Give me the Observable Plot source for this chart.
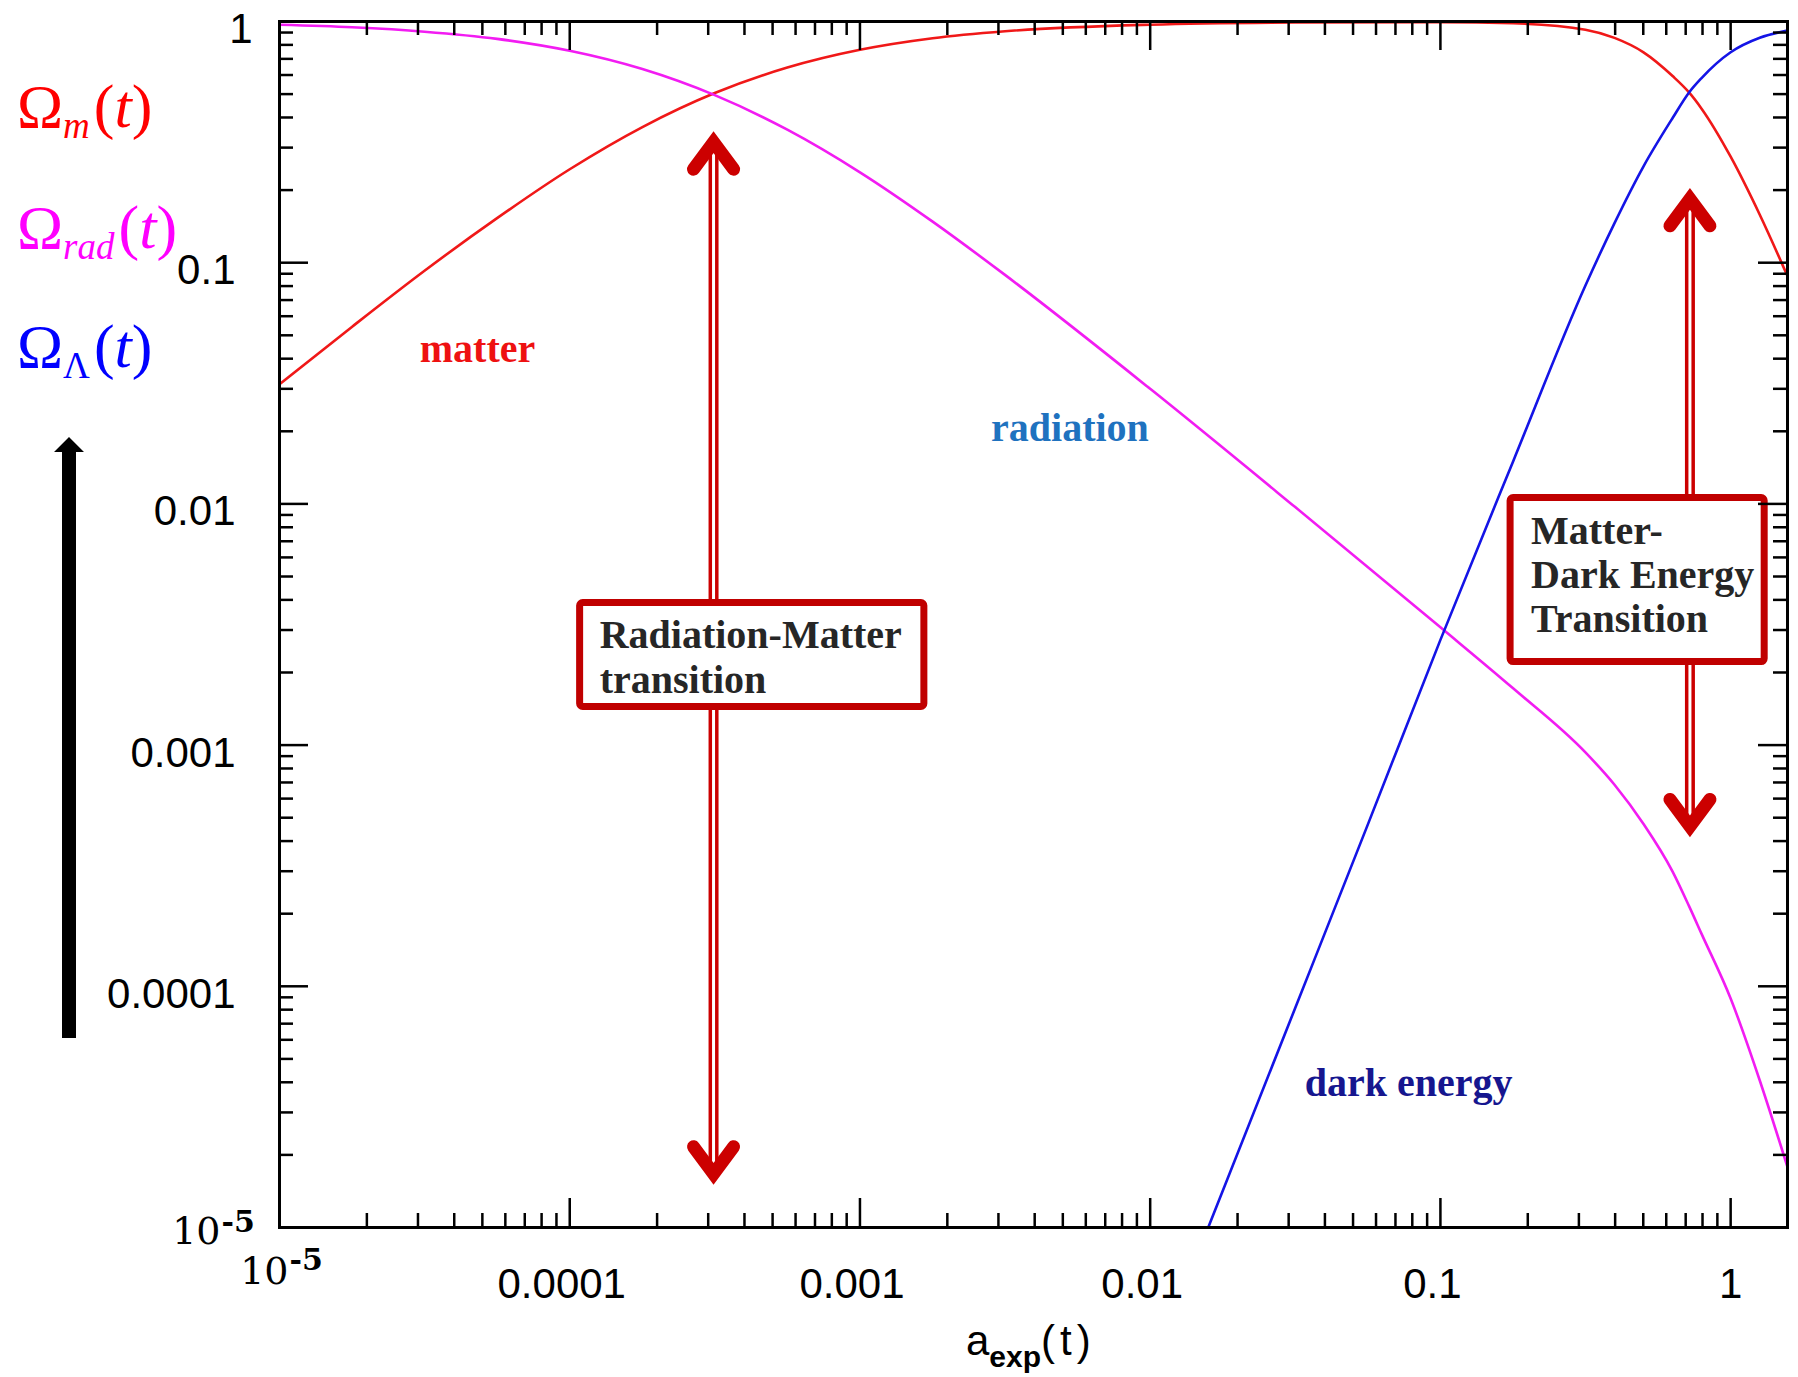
<!DOCTYPE html>
<html>
<head>
<meta charset="utf-8">
<script src="https://cdn.jsdelivr.net/npm/d3@7"></script>
<script src="https://cdn.jsdelivr.net/npm/@observablehq/plot@0.6"></script>
<style>
html,body{margin:0;padding:0;background:#fff;}
#chart svg{display:block;}
</style>
</head>
<body>
<div id="chart"></div>
<script>
// ---------- data ----------
const aexp = [1e-5, 1.78e-5, 3.16e-5, 5.62e-5, 1e-4, 1.78e-4, 3.16e-4, 5.62e-4, 1e-3, 1.78e-3, 3.16e-3, 0.01, 0.0316, 0.1, 0.178, 0.316, 0.398, 0.501, 0.631, 0.719, 0.794, 1, 1.26, 1.57];
const omegaMatter = [0.0313, 0.0543, 0.0926, 0.153, 0.244, 0.365, 0.505, 0.644, 0.763, 0.852, 0.911, 0.970, 0.990, 0.994, 0.983, 0.925, 0.855, 0.745, 0.594, 0.508, 0.435, 0.275, 0.158, 0.088];
const omegaRad = [0.969, 0.946, 0.907, 0.847, 0.756, 0.635, 0.495, 0.356, 0.237, 0.148, 0.089, 0.030, 0.0097, 0.00308, 0.00172, 0.000933, 0.000685, 0.000471, 0.000299, 0.000215, 0.000165, 8.9e-5, 4.07e-5, 1.78e-5];
const aexpLambda = [0.01585, 0.0316, 0.0562, 0.1, 0.178, 0.316, 0.398, 0.501, 0.631, 0.719, 0.794, 1, 1.26, 1.57];
const omegaLambda = [1e-5, 8.13e-5, 4.68e-4, 0.00273, 0.0150, 0.0804, 0.146, 0.251, 0.398, 0.508, 0.583, 0.746, 0.857, 0.918];

// transitions (double arrows)
const transitionA = [3.13e-4, 0.724];
const transitionTop = [0.316, 0.184];
const transitionBottom = [1.67e-5, 4.6e-4];

// annotation boxes
const boxX1 = [1.086e-4, 0.1745];
const boxX2 = [1.667e-3, 1.31];
const boxY1 = [1.44e-3, 2.21e-3];
const boxY2 = [3.88e-3, 1.058e-2];
const boxLineText = ["Radiation-Matter", "transition", "Matter-", "Dark Energy", "Transition"];
const boxLineA = [1.268e-4, 1.268e-4, 0.2052, 0.2052, 0.2052];
const boxLineOmega = [2.85e-3, 1.85e-3, 7.68e-3, 5.05e-3, 3.32e-3];

// curve labels
const curveLabelText = ["matter", "radiation", "dark energy"];
const curveLabelA = [4.81e-5, 5.29e-3, 0.0777];
const curveLabelOmega = [0.0437, 0.0207, 3.95e-5];
const curveLabelColor = ["#ee1111", "#1f72bf", "#16168f"];

// ticks
const xMajorTicks = [1e-5, 1e-4, 1e-3, 1e-2, 1e-1, 1];
const yMajorTicks = [1e-5, 1e-4, 1e-3, 1e-2, 1e-1, 1];
const minorOf = (decades) => decades.slice(0, -1).flatMap(d => [2,3,4,5,6,7,8,9].map(k => +(k * d).toPrecision(3)));
const xMinorTicks = minorOf(xMajorTicks);
const yMinorTicks = minorOf(yMajorTicks);
const xTickValues = [1e-4, 1e-3, 1e-2, 1e-1];
const xTickLabels = ["0.0001", "0.001", "0.01", "0.1"];
const yTickValues = [1e-4, 1e-3, 1e-2, 1e-1];
const yTickLabels = ["0.0001", "0.001", "0.01", "0.1"];

// ---------- layout ----------
const W = 1798, H = 1377;
const mL = 279, mR = 11, mT = 21, mB = 150;
const fw = W - mL - mR, fh = H - mT - mB;
const majorLen = 29, minorLen = 14;

const rows = (xs, ys) => xs.map((a, i) => ({a, omega: ys[i]}));
const transitions = transitionA.map((a, i) => ({a, top: transitionTop[i], bottom: transitionBottom[i]}));
const boxes = boxX1.map((x1, i) => ({x1, x2: boxX2[i], y1: boxY1[i], y2: boxY2[i]}));
const boxLines = boxLineText.map((t, i) => ({t, a: boxLineA[i], omega: boxLineOmega[i]}));
const curveLabels = curveLabelText.map((t, i) => ({t, a: curveLabelA[i], omega: curveLabelOmega[i], c: curveLabelColor[i]}));

const chevronUp = {draw(c) { c.moveTo(-20, 27); c.lineTo(0, 0); c.lineTo(20, 27); }};
const chevronDown = {draw(c) { c.moveTo(-20, -27); c.lineTo(0, 0); c.lineTo(20, -27); }};

const arrowRed = "#cc0000";
const sans = "'Liberation Sans', Arial, Helvetica, sans-serif";
const serif = "'Liberation Serif', 'Times New Roman', serif";
const numSerif = "'DejaVu Serif', serif";
const lblFont = 42;

const svgNode = Plot.plot({
  width: W, height: H,
  marginLeft: mL, marginRight: mR, marginTop: mT, marginBottom: mB,
  x: {type: "log", domain: [1e-5, 1.57], axis: null},
  y: {type: "log", domain: [1e-5, 1], axis: null},
  style: {background: "white", fontFamily: sans, color: "black"},
  marks: [
    // curves
    Plot.line(rows(aexp, omegaMatter), {x: "a", y: "omega", stroke: "#f01818", strokeWidth: 2.6, curve: "monotone-x", clip: true}),
    Plot.line(rows(aexp, omegaRad), {x: "a", y: "omega", stroke: "#f21cf2", strokeWidth: 2.6, curve: "monotone-x", clip: true}),
    Plot.line(rows(aexpLambda, omegaLambda), {x: "a", y: "omega", stroke: "#1414e6", strokeWidth: 2.6, curve: "monotone-x", clip: true}),

    // transition double arrows
    Plot.ruleX(transitions, {x: "a", y1: "bottom", y2: "top", stroke: arrowRed, strokeWidth: 10}),
    Plot.ruleX(transitions, {x: "a", y1: "bottom", y2: "top", stroke: "white", strokeWidth: 3}),
    Plot.dot(transitions, {x: "a", y: "top", symbol: chevronUp, fill: "none", stroke: arrowRed, strokeWidth: 13, strokeLinejoin: "miter", strokeLinecap: "round"}),
    Plot.dot(transitions, {x: "a", y: "bottom", symbol: chevronDown, fill: "none", stroke: arrowRed, strokeWidth: 13, strokeLinejoin: "miter", strokeLinecap: "round"}),

    // annotation boxes
    Plot.rect(boxes, {x1: "x1", x2: "x2", y1: "y1", y2: "y2", fill: "white", stroke: "#c00000", strokeWidth: 7, rx: 3}),
    Plot.text(boxLines, {x: "a", y: "omega", text: "t", textAnchor: "start", lineAnchor: "middle", fontFamily: serif, fontWeight: "bold", fontSize: 40, fill: "#262626"}),

    // curve labels
    Plot.text(curveLabels, {x: "a", y: "omega", text: "t", fill: "c", lineAnchor: "middle", fontFamily: serif, fontWeight: "bold", fontSize: 40}),

    // frame and ticks (inward)
    Plot.frame({stroke: "black", strokeWidth: 3}),
    Plot.ruleY(yMajorTicks, {y: d => d, insetRight: fw - majorLen, stroke: "black", strokeWidth: 2.5}),
    Plot.ruleY(yMajorTicks, {y: d => d, insetLeft: fw - majorLen, stroke: "black", strokeWidth: 2.5}),
    Plot.ruleY(yMinorTicks, {y: d => d, insetRight: fw - minorLen, stroke: "black", strokeWidth: 2.5}),
    Plot.ruleY(yMinorTicks, {y: d => d, insetLeft: fw - minorLen, stroke: "black", strokeWidth: 2.5}),
    Plot.ruleX(xMajorTicks, {x: d => d, insetTop: fh - majorLen, stroke: "black", strokeWidth: 2.5}),
    Plot.ruleX(xMajorTicks, {x: d => d, insetBottom: fh - majorLen, stroke: "black", strokeWidth: 2.5}),
    Plot.ruleX(xMinorTicks, {x: d => d, insetTop: fh - minorLen, stroke: "black", strokeWidth: 2.5}),
    Plot.ruleX(xMinorTicks, {x: d => d, insetBottom: fh - minorLen, stroke: "black", strokeWidth: 2.5}),

    // y tick labels
    Plot.text(yTickValues, {y: d => d, text: (d, i) => yTickLabels[i], frameAnchor: "left", textAnchor: "end", lineAnchor: "middle", dx: -44, dy: 8, fontSize: lblFont, fontFamily: sans, fill: "black"}),
    Plot.text([1], {y: d => d, text: () => "1", frameAnchor: "left", textAnchor: "end", lineAnchor: "middle", dx: -27, dy: 8, fontSize: lblFont, fontFamily: sans, fill: "black"}),
    Plot.text([1e-5], {y: d => d, text: () => "10", frameAnchor: "left", textAnchor: "end", lineAnchor: "middle", dx: -59, dy: 4, fontSize: 38, fontFamily: numSerif, fill: "black"}),
    Plot.text([1e-5], {y: d => d, text: () => "-5", frameAnchor: "left", textAnchor: "start", lineAnchor: "middle", dx: -58, dy: -5, fontSize: 30, fontWeight: "bold", fontFamily: numSerif, fill: "black"}),

    // x tick labels
    Plot.text(xTickValues, {x: d => d, text: (d, i) => xTickLabels[i], frameAnchor: "bottom", textAnchor: "middle", lineAnchor: "middle", dx: -8, dy: 57, fontSize: lblFont, fontFamily: sans, fill: "black"}),
    Plot.text([1], {x: d => d, text: () => "1", frameAnchor: "bottom", textAnchor: "middle", lineAnchor: "middle", dx: 0, dy: 57, fontSize: lblFont, fontFamily: sans, fill: "black"}),
    Plot.text([1e-5], {x: d => d, text: () => "10", frameAnchor: "bottom", textAnchor: "end", lineAnchor: "middle", dx: 9, dy: 44, fontSize: 38, fontFamily: numSerif, fill: "black"}),
    Plot.text([1e-5], {x: d => d, text: () => "-5", frameAnchor: "bottom", textAnchor: "start", lineAnchor: "middle", dx: 10, dy: 33, fontSize: 30, fontWeight: "bold", fontFamily: numSerif, fill: "black"})
  ]
});

document.getElementById("chart").appendChild(svgNode);
const svg = d3.select(svgNode);

// ---------- Omega labels on the left ----------
const legendSub = ["m", "rad", "\u039B"];
const legendSubItalic = [true, true, false];
const legendColor = ["#ff0000", "#ff00ff", "#0000ff"];
const legendBaseline = [127, 248, 367];
legendSub.forEach((s, i) => {
  const t = svg.append("text")
    .attr("x", 17).attr("y", legendBaseline[i])
    .attr("text-anchor", "start")
    .attr("font-family", serif).attr("font-size", 62).attr("fill", legendColor[i]);
  t.append("tspan").text("\u03A9");
  t.append("tspan").attr("font-size", 37).attr("font-style", legendSubItalic[i] ? "italic" : "normal").attr("dy", 11).text(s);
  t.append("tspan").attr("dy", -11).attr("dx", 4).text("(");
  t.append("tspan").attr("font-style", "italic").text("t");
  t.append("tspan").text(")");
});

// black upward arrow
svg.append("path")
  .attr("d", "M62,1038 V452 H54 L69,437 L84,452 H76 V1038 Z")
  .attr("fill", "black");

// x-axis title
const xt = svg.append("text")
  .attr("x", 966).attr("y", 1355)
  .attr("text-anchor", "start")
  .attr("font-family", sans).attr("font-size", 42).attr("fill", "black");
xt.append("tspan").text("a");
xt.append("tspan").attr("font-size", 30).attr("font-weight", "bold").attr("dy", 12).text("exp");
xt.append("tspan").attr("dy", -12).attr("letter-spacing", 5).text("(t)");
</script>
</body>
</html>
